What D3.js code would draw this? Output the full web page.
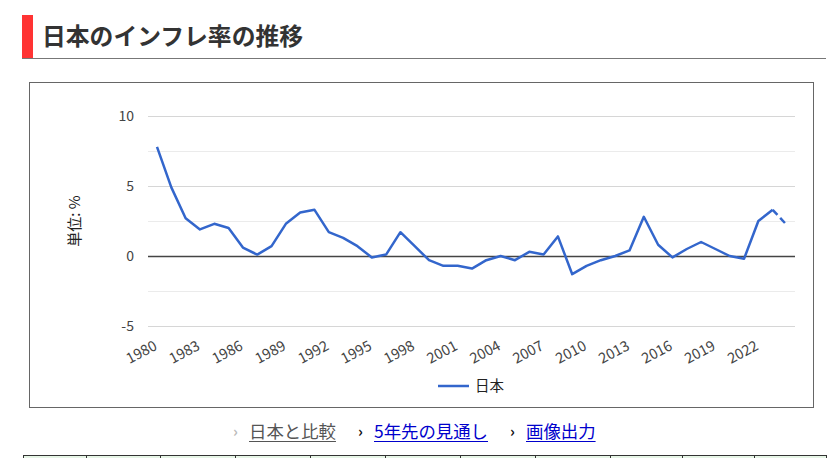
<!DOCTYPE html>
<html><head><meta charset="utf-8">
<script src="https://cdn.jsdelivr.net/npm/d3@7"></script>
<style>
html,body{margin:0;padding:0;background:#fff;}
svg{display:block;}
</style></head>
<body>
<svg id="c" width="834" height="458"></svg>
<script>
const years = d3.range(1980, 2025);
const inflation = [7.8,4.9,2.7,1.9,2.3,2.0,0.6,0.1,0.7,2.3,3.1,3.3,1.7,1.3,0.7,-0.1,0.1,1.7,0.7,-0.3,-0.7,-0.7,-0.9,-0.3,0.0,-0.3,0.3,0.1,1.4,-1.3,-0.7,-0.3,0.0,0.4,2.8,0.8,-0.1,0.5,1.0,0.5,0.0,-0.2,2.5,3.3,2.2];
const forecastFrom = 2023;
const yTicks = [-5,0,5,10];
const yMinor = [-2.5,2.5,7.5];
const xTickYears = d3.range(1980, 2023, 3);
const title = "日本のインフレ率の推移";
const yTitle = "単位: %";
const seriesName = "日本";
const links = [{t:"日本と比較",c:"#555"},{t:"5年先の見通し",c:"#0000cc"},{t:"画像出力",c:"#0000cc"}];

const svg = d3.select("#c");
const font = "'Noto Sans CJK JP','Noto Sans',sans-serif";

// title
svg.append("rect").attr("x",22).attr("y",15).attr("width",11).attr("height",43).attr("fill","#f33");
svg.append("text").attr("x",42).attr("y",45).attr("font-family",font).attr("font-size",23.8).attr("font-weight","bold").attr("fill","#333").text(title);
svg.append("line").attr("x1",22).attr("x2",826).attr("y1",58.5).attr("y2",58.5).attr("stroke","#777").attr("stroke-width",1);

// chart box
svg.append("rect").attr("x",29.5).attr("y",82.5).attr("width",784).attr("height",325).attr("fill","#fff").attr("stroke","#666");

const x = d3.scalePoint().domain(years).range([157, 787]);
const y = d3.scaleLinear().domain([-5,10]).range([326,116]);
const gx0 = 148, gx1 = 795;

const g = svg.append("g");
g.selectAll(".minor").data(yMinor).join("line").attr("x1",gx0).attr("x2",gx1)
 .attr("y1",d=>Math.round(y(d))+0.5).attr("y2",d=>Math.round(y(d))+0.5).attr("stroke","#ebebeb");
g.selectAll(".major").data(yTicks).join("line").attr("x1",gx0).attr("x2",gx1)
 .attr("y1",d=>Math.round(y(d))+0.5).attr("y2",d=>Math.round(y(d))+0.5)
 .attr("stroke",d=>d===0?"#444":"#d6d6d6").attr("stroke-width",d=>d===0?1.5:1.2);
g.selectAll(".ylab").data(yTicks).join("text").attr("x",134).attr("y",d=>y(d)+5)
 .attr("text-anchor","end").attr("font-family",font).attr("font-size",14).attr("fill","#444").text(d=>d);

g.append("text").attr("transform","translate(80,221) rotate(-90)").attr("text-anchor","middle")
 .attr("font-family",font).attr("font-size",15).attr("fill","#222").text(yTitle);

g.selectAll(".xlab").data(xTickYears).join("text")
 .attr("transform",d=>`translate(${x(d)+1},${349}) rotate(-28)`).attr("text-anchor","end")
 .attr("font-family",font).attr("font-size",14.5).attr("fill","#444").text(d=>d);

const pts = years.map((yr,i)=>({yr,v:inflation[i]}));
const line = d3.line().x(d=>x(d.yr)).y(d=>y(d.v));
g.append("path").datum(pts.filter(d=>d.yr<=forecastFrom)).attr("d",line).attr("fill","none")
 .attr("stroke","#3366cc").attr("stroke-width",2.5).attr("stroke-linejoin","round");
g.append("path").datum(pts.filter(d=>d.yr>=forecastFrom)).attr("d",line).attr("fill","none")
 .attr("stroke","#3366cc").attr("stroke-width",2.5).attr("stroke-dasharray","7,4");

// legend
g.append("line").attr("x1",438).attr("x2",469).attr("y1",386).attr("y2",386).attr("stroke","#3366cc").attr("stroke-width",2.5);
g.append("text").attr("x",475).attr("y",391).attr("font-family",font).attr("font-size",14.5).attr("fill","#222").text(seriesName);

// links
const lx = [233, 358, 510];
links.forEach((l,i)=>{
  svg.append("text").attr("x",lx[i]).attr("y",437).attr("font-family",font).attr("font-size",15).attr("font-weight","bold")
    .attr("fill",i===0?"#bbb":"#111").text("›");
  const t = svg.append("text").attr("x",lx[i]+16).attr("y",438).attr("font-family",font).attr("font-size",17.4)
    .attr("fill",l.c).text(l.t);
  const w = t.node().getComputedTextLength();
  svg.append("line").attr("x1",lx[i]+16).attr("x2",lx[i]+16+w).attr("y1",441.5).attr("y2",441.5).attr("stroke",l.c).attr("stroke-width",1);
});

// table top
svg.append("rect").attr("x",23.5).attr("y",455.5).attr("width",803).attr("height",10).attr("fill","#e6f5e6").attr("stroke","#333");
const cols = [86,160,235,310,385,460,535,610,682,754];
svg.selectAll(".col").data(cols).join("line").attr("x1",d=>d+0.5).attr("x2",d=>d+0.5).attr("y1",455).attr("y2",458).attr("stroke","#333");
</script>
</body></html>
